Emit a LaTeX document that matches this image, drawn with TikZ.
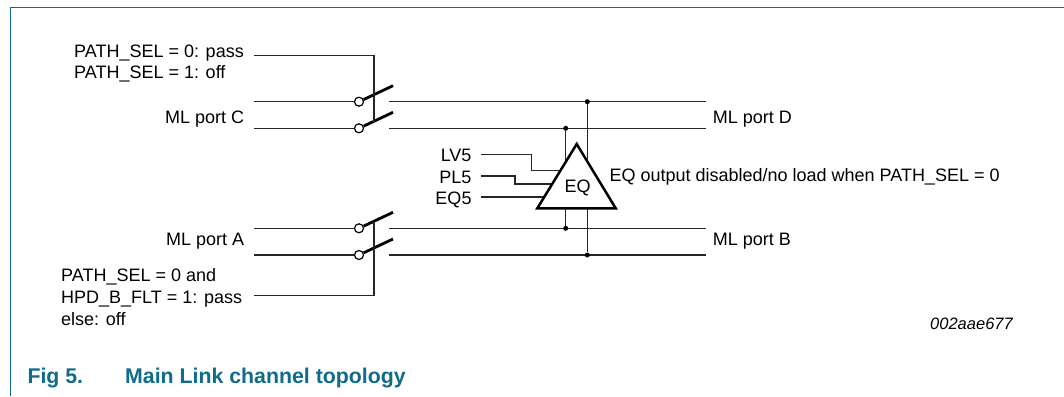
\documentclass[tikz,border=0pt]{standalone}
\usepackage{fontspec}
\setmainfont{Liberation Sans}
\definecolor{nxpteal}{RGB}{16,108,138}
\begin{document}
\begin{tikzpicture}[x=1pt,y=-1pt,
  wire/.style={line width=1.3pt, black!85},
  blade/.style={line width=2.8pt, line cap=butt},
  lbl/.style={inner sep=0pt, font=\fontsize{18}{21}\selectfont},
  contact/.style={circle, draw, line width=1.2pt, fill=white, minimum size=9pt, inner sep=0pt},
  junction/.style={circle, fill=black, minimum size=5pt, inner sep=0pt},
  caption/.style={inner sep=0pt, text=nxpteal, font=\fontsize{21.3}{25}\selectfont\bfseries},
]
\useasboundingbox (0,0) rectangle (1064,396);
% frame
\draw[nxpteal, line width=1.3pt] (10.7,396) -- (10.7,7.3) -- (1064,7.3);

% coordinates
\coordinate (ctlIn) at (254,55.5);
\coordinate (ctlTop) at (374,55.5);
\coordinate (ctlC) at (374,122);
\coordinate (hpdIn) at (254,295.7);
\coordinate (ctlBot) at (374,295.7);
\coordinate (ctlA) at (374,222);

\coordinate (inC1) at (254,101.7);
\coordinate (inC2) at (254,128.3);
\coordinate (inA1) at (254,228.3);
\coordinate (inA2) at (254,255);

\coordinate (oD1) at (389,101.7);
\coordinate (oD2) at (389,128.3);
\coordinate (oB1) at (389,228.3);
\coordinate (oB2) at (389,255);
\coordinate (eD1) at (706,101.7);
\coordinate (eD2) at (706,128.3);
\coordinate (eB1) at (706,228.3);
\coordinate (eB2) at (706,255);

\coordinate (bC1) at (393,85.7);
\coordinate (bC2) at (393,112.3);
\coordinate (bA1) at (393,212.3);
\coordinate (bA2) at (393,239);

% wires left and right
\draw[wire] (oD1) -- (eD1);
\draw[wire] (oD2) -- (eD2);
\draw[wire] (oB1) -- (eB1);
\draw[wire] (oB2) -- (eB2);

% switch contacts
\node[contact] (cC1) at (359,101.7) {};
\node[contact] (cC2) at (359,128.3) {};
\node[contact] (cA1) at (359,228.3) {};
\node[contact] (cA2) at (359,255) {};
\draw[wire] (inC1) -- (cC1.west);
\draw[wire] (inC2) -- (cC2.west);
\draw[wire] (inA1) -- (cA1.west);
\draw[wire] (inA2) -- (cA2.west);

% blades
\draw[blade] (cC1.25) -- (bC1);
\draw[blade] (cC2.25) -- (bC2);
\draw[blade] (cA1.25) -- (bA1);
\draw[blade] (cA2.25) -- (bA2);

% control lines
\draw[wire] (ctlIn) -- (ctlTop) -- (ctlC);
\draw[wire] (hpdIn) -- (ctlBot) -- (ctlA);

% junctions and EQ taps
\node[junction] (j1) at (587.3,101.7) {};
\node[junction] (j2) at (565.7,128.3) {};
\node[junction] (j3) at (565.7,228.3) {};
\node[junction] (j4) at (587.3,255) {};
\draw[wire] (j1) -- (j4);
\draw[wire] (j2) -- (j3);

% EQ inputs
\coordinate (lvA) at (480.7,154.7);
\coordinate (lvB) at (531.7,154.7);
\coordinate (lvC) at (531.7,170.7);
\coordinate (lvD) at (566,170.7);
\coordinate (plA) at (480.7,176);
\coordinate (plB) at (515,176);
\coordinate (plC) at (515,184);
\coordinate (plD) at (566,184);
\coordinate (eqA) at (480.7,197);
\coordinate (eqD) at (566,197);
\draw[wire] (lvA) -- (lvB) -- (lvC) -- (lvD);
\draw[wire] (plA) -- (plB) -- (plC) -- (plD);
\draw[wire] (eqA) -- (eqD);

% EQ triangle
\coordinate (tApex) at (576.7,144);
\coordinate (tL) at (537.3,208.3);
\coordinate (tR) at (615.7,208.3);
\draw[line width=2.5pt, fill=white, line join=miter] (tApex) -- (tL) -- (tR) -- cycle;
\node[lbl, anchor=base] (eq) at (577.5,192.3) {EQ};

% labels
\node[lbl, anchor=base west] (ps0) at (74,57.3) {PATH\_SEL = 0: pass};
\node[lbl, anchor=base west] (ps1) at (74,78.6) {PATH\_SEL = 1: off};
\node[lbl, anchor=base east] (mlC) at (244.3,123.3) {ML port C};
\node[lbl, anchor=base east] (mlA) at (244.3,245) {ML port A};
\node[lbl, anchor=base west] (pa0) at (61,281.7) {PATH\_SEL = 0 and};
\node[lbl, anchor=base west] (pa1) at (61,303.8) {HPD\_B\_FLT = 1: pass};
\node[lbl, anchor=base west] (pa2) at (61,325.7) {else: off};
\node[lbl, anchor=base west] (mlD) at (712.7,123.3) {ML port D};
\node[lbl, anchor=base west] (mlB) at (712.7,245) {ML port B};
\node[lbl, anchor=base west] (note) at (609.3,181.7) {EQ output disabled/no load when PATH\_SEL = 0};
\node[lbl, anchor=base east] (lv5) at (471.7,161.7) {LV5};
\node[lbl, anchor=base east] (pl5) at (471.7,183.3) {PL5};
\node[lbl, anchor=base east] (eq5) at (471.7,204.3) {EQ5};
\node[inner sep=0pt, anchor=base east, font=\fontsize{16.5}{19}\selectfont\itshape] (code) at (1013,329.3) {002aae677};

% caption
\node[caption, anchor=base west] (fig) at (27.3,383.3) {Fig 5.};
\node[caption, anchor=base west] (title) at (125,383.3) {Main Link channel topology};
\end{tikzpicture}
\end{document}
